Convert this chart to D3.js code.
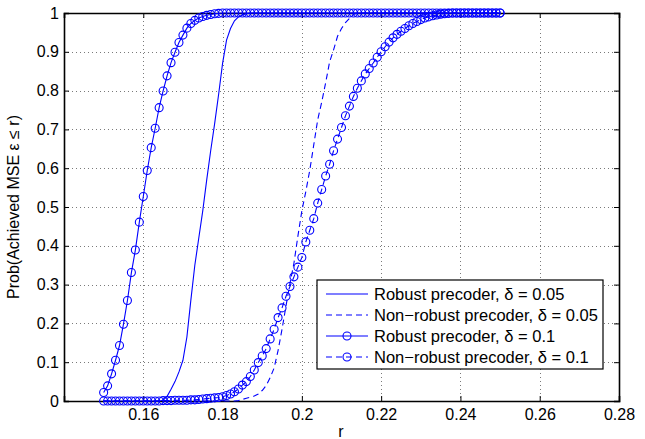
<!DOCTYPE html>
<html lang="en">
<head>
<meta charset="UTF-8">
<script src="https://cdn.jsdelivr.net/npm/d3@7"></script>
<title>MSE CDF</title>
<style>
	body { margin: 0; background: #fff; }
	text { font-family: "Liberation Sans", Arial, sans-serif; fill: #000; }
</style>
</head>
<body>
<svg id="chart" width="645" height="439"></svg>

<script type="text/javascript">
	// r grid: 0.150 .. 0.250, one sample every 0.001
	var rStart = 0.15, rStep = 0.001, nPts = 101;

	// Robust precoder, delta = 0.05 (solid)
	var robust005 = [
		0, 0, 0, 0, 0, 0, 0, 0, 0, 0,
		0, 0, 0, 0, 0, 0.002, 0.012, 0.03, 0.05, 0.075,
		0.105, 0.165, 0.26, 0.35, 0.42, 0.49, 0.57, 0.645, 0.715, 0.79,
		0.87, 0.93, 0.96, 0.98, 0.99, 0.995, 0.998, 1, 1, 1,
		1, 1, 1, 1, 1, 1, 1, 1, 1, 1,
		1, 1, 1, 1, 1, 1, 1, 1, 1, 1,
		1, 1, 1, 1, 1, 1, 1, 1, 1, 1,
		1, 1, 1, 1, 1, 1, 1, 1, 1, 1,
		1, 1, 1, 1, 1, 1, 1, 1, 1, 1,
		1, 1, 1, 1, 1, 1, 1, 1, 1, 1,
		1
	];
	// Non-robust precoder, delta = 0.05 (dashed)
	var nonrobust005 = [
		0, 0, 0, 0, 0, 0, 0, 0, 0, 0,
		0, 0, 0, 0, 0, 0, 0, 0, 0, 0,
		0, 0, 0, 0, 0, 0, 0, 0, 0, 0,
		0, 0, 0, 0, 0.001, 0.004, 0.007, 0.01, 0.013, 0.018,
		0.027, 0.04, 0.06, 0.085, 0.13, 0.185, 0.245, 0.303, 0.355, 0.425,
		0.49, 0.54, 0.595, 0.66, 0.725, 0.77, 0.82, 0.874, 0.905, 0.94,
		0.96, 0.975, 0.986, 0.996, 1, 1, 1, 1, 1, 1,
		1, 1, 1, 1, 1, 1, 1, 1, 1, 1,
		1, 1, 1, 1, 1, 1, 1, 1, 1, 1,
		1, 1, 1, 1, 1, 1, 1, 1, 1, 1,
		1
	];
	// Robust precoder, delta = 0.1 (solid + circles)
	var robust01 = [
		0.022, 0.039, 0.070, 0.105, 0.143, 0.198, 0.259, 0.331, 0.389, 0.461,
		0.527, 0.594, 0.653, 0.703, 0.756, 0.799, 0.838, 0.872, 0.899, 0.924,
		0.943, 0.961, 0.973, 0.981, 0.987, 0.991, 0.994, 0.996, 0.998, 0.999,
		1, 1, 1, 1, 1, 1, 1, 1, 1, 1,
		1, 1, 1, 1, 1, 1, 1, 1, 1, 1,
		1, 1, 1, 1, 1, 1, 1, 1, 1, 1,
		1, 1, 1, 1, 1, 1, 1, 1, 1, 1,
		1, 1, 1, 1, 1, 1, 1, 1, 1, 1,
		1, 1, 1, 1, 1, 1, 1, 1, 1, 1,
		1, 1, 1, 1, 1, 1, 1, 1, 1, 1,
		1
	];
	// Non-robust precoder, delta = 0.1 (dashed + circles)
	var nonrobust01 = [
		0, 0, 0, 0, 0, 0, 0, 0, 0, 0,
		0, 0, 0, 0, 0, 0.001, 0.001, 0.001, 0.002, 0.002,
		0.002, 0.002, 0.003, 0.003, 0.004, 0.005, 0.006, 0.007, 0.008, 0.009,
		0.011, 0.014, 0.018, 0.024, 0.031, 0.041, 0.05, 0.063, 0.08, 0.099,
		0.116, 0.135, 0.16, 0.185, 0.215, 0.24, 0.27, 0.295, 0.32, 0.345,
		0.37, 0.41, 0.44, 0.47, 0.51, 0.545, 0.58, 0.61, 0.645, 0.675,
		0.705, 0.735, 0.76, 0.785, 0.806, 0.825, 0.843, 0.857, 0.871, 0.886,
		0.9, 0.913, 0.925, 0.936, 0.945, 0.953, 0.96, 0.967, 0.973, 0.978,
		0.983, 0.987, 0.99, 0.993, 0.995, 0.997, 0.998, 0.999, 1, 1,
		1, 1, 1, 1, 1, 1, 1, 1, 1, 1,
		1
	];

	var xTicks = [0.14, 0.16, 0.18, 0.2, 0.22, 0.24, 0.26, 0.28];
	var yTicks = [0, 0.1, 0.2, 0.3, 0.4, 0.5, 0.6, 0.7, 0.8, 0.9, 1];
	var legendLabels = [
		"Robust precoder, \u03b4 = 0.05",
		"Non\u2212robust precoder, \u03b4 = 0.05",
		"Robust precoder, \u03b4 = 0.1",
		"Non\u2212robust precoder, \u03b4 = 0.1"
	];

	var blue = "#0000ff";
	var series = [
		{ values: robust005, dash: null, marker: false },
		{ values: nonrobust005, dash: "6,4", marker: false },
		{ values: robust01, dash: null, marker: true },
		{ values: nonrobust01, dash: "6,4", marker: true }
	];

	var margin = { left: 64, right: 26, top: 13, bottom: 38 };
	var width = 645, height = 439;

	var svg = d3.select("#chart");

	var x = d3.scaleLinear().domain([0.14, 0.28]).range([margin.left, width - margin.right]);
	var y = d3.scaleLinear().domain([0, 1]).range([height - margin.bottom, margin.top]);

	var rAt = function(i) { return +(rStart + i * rStep).toFixed(3); };

	// dotted grid
	var grid = svg.append("g")
		.attr("stroke", "#7a7a7a")
		.attr("stroke-width", 1)
		.attr("stroke-dasharray", "1,3");
	grid.selectAll("line.gx")
		.data(xTicks.slice(1, -1))
		.enter().append("line")
		.attr("x1", function(d) { return Math.round(x(d)) + 0.5; })
		.attr("x2", function(d) { return Math.round(x(d)) + 0.5; })
		.attr("y1", y(1))
		.attr("y2", y(0));
	grid.selectAll("line.gy")
		.data(yTicks.slice(1, -1))
		.enter().append("line")
		.attr("y1", function(d) { return Math.round(y(d)) + 0.5; })
		.attr("y2", function(d) { return Math.round(y(d)) + 0.5; })
		.attr("x1", x(0.14))
		.attr("x2", x(0.28));

	// axes: ticks pointing inward on all four sides
	var tickFmt = function(d) { return d3.format("~g")(d); };
	var tl = 5;

	var xAxisB = svg.append("g")
		.attr("transform", "translate(0," + y(0) + ")")
		.call(d3.axisBottom(x).tickValues(xTicks).tickSize(-tl).tickPadding(8)
			.tickFormat(function(d) { return d === 0.14 ? "" : tickFmt(d); }));
	var xAxisT = svg.append("g")
		.attr("transform", "translate(0," + y(1) + ")")
		.call(d3.axisTop(x).tickValues(xTicks).tickSize(-tl).tickFormat(""));
	var yAxisL = svg.append("g")
		.attr("transform", "translate(" + x(0.14) + ",0)")
		.call(d3.axisLeft(y).tickValues(yTicks).tickSize(-tl).tickPadding(5).tickFormat(tickFmt));
	var yAxisR = svg.append("g")
		.attr("transform", "translate(" + x(0.28) + ",0)")
		.call(d3.axisRight(y).tickValues(yTicks).tickSize(-tl).tickFormat(""));

	[xAxisB, xAxisT, yAxisL, yAxisR].forEach(function(g) {
		g.select(".domain").attr("stroke", "#000").attr("stroke-width", 1.6);
		g.selectAll(".tick line").attr("stroke", "#000").attr("stroke-width", 1);
		g.selectAll("text")
			.style("font-family", "'Liberation Sans', Arial, sans-serif")
			.style("font-size", "16px")
			.attr("fill", "#000");
	});

	// curves
	var line = d3.line()
		.x(function(d, i) { return x(rAt(i)); })
		.y(function(d) { return y(d); });

	series.forEach(function(s) {
		svg.append("path")
			.datum(s.values)
			.attr("d", line)
			.attr("fill", "none")
			.attr("stroke", blue)
			.attr("stroke-width", 1.1)
			.attr("stroke-dasharray", s.dash);
		if (s.marker) {
			svg.append("g").selectAll("circle")
				.data(s.values)
				.enter().append("circle")
				.attr("cx", function(d, i) { return x(rAt(i)); })
				.attr("cy", function(d) { return y(d); })
				.attr("r", 4)
				.attr("fill", "none")
				.attr("stroke", blue)
				.attr("stroke-width", 1.1);
		}
	});

	// axis titles
	svg.append("text")
		.attr("x", 341)
		.attr("y", 437)
		.attr("text-anchor", "middle")
		.style("font-size", "16px")
		.text("r");
	svg.append("text")
		.attr("transform", "translate(19," + ((y(0) + y(1)) / 2) + ") rotate(-90)")
		.attr("text-anchor", "middle")
		.style("font-size", "16px")
		.text("Prob(Achieved MSE \u03b5 \u2264 r)");

	// legend
	var lg = svg.append("g").attr("transform", "translate(317,280)");
	lg.append("rect")
		.attr("width", 286)
		.attr("height", 89)
		.attr("fill", "#fff")
		.attr("stroke", "#000")
		.attr("stroke-width", 1.2);
	var rows = lg.selectAll("g.row")
		.data(series)
		.enter().append("g")
		.attr("transform", function(d, i) { return "translate(0," + (14 + i * 21) + ")"; });
	rows.append("line")
		.attr("x1", 9).attr("x2", 51)
		.attr("stroke", blue)
		.attr("stroke-width", 1.1)
		.attr("stroke-dasharray", function(d) { return d.dash; });
	rows.filter(function(d) { return d.marker; })
		.append("circle")
		.attr("cx", 30)
		.attr("r", 4)
		.attr("fill", "none")
		.attr("stroke", blue)
		.attr("stroke-width", 1.1);
	rows.append("text")
		.attr("x", 57)
		.attr("y", 6)
		.style("font-size", "16.5px")
		.text(function(d, i) { return legendLabels[i]; });
</script>
</body>
</html>
